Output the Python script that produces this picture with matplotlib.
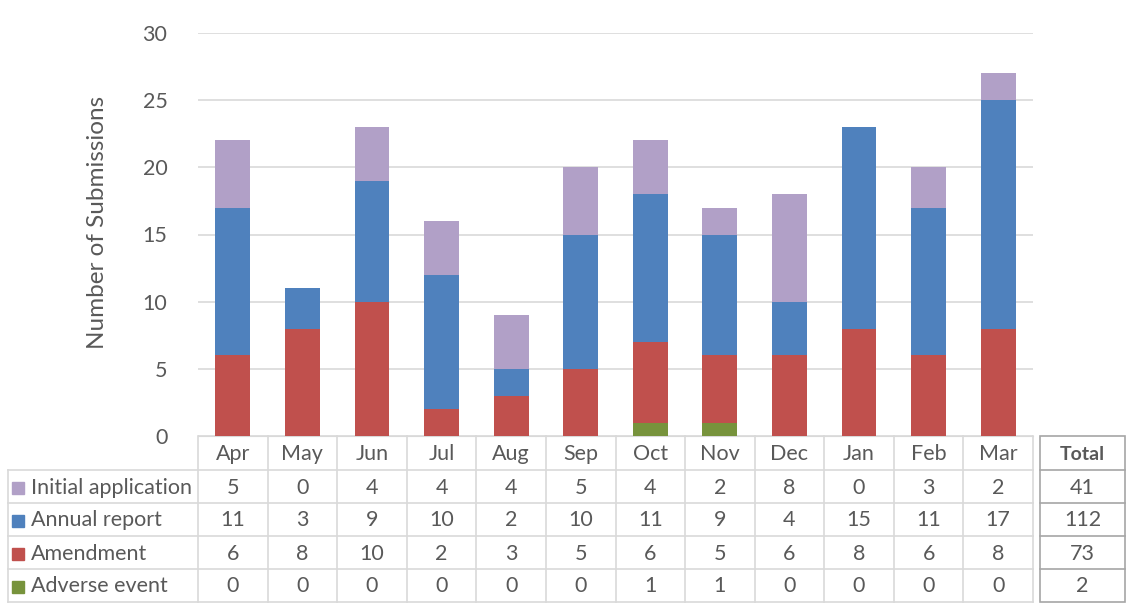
import numpy as np
import matplotlib
matplotlib.use('Agg')
import matplotlib.pyplot as plt

plt.rcParams['font.family'] = ['Lato', 'DejaVu Sans']

## data
months = ['Apr', 'May', 'Jun', 'Jul', 'Aug', 'Sep', 'Oct', 'Nov', 'Dec', 'Jan', 'Feb', 'Mar']
initial = [5, 0, 4, 4, 4, 5, 4, 2, 8, 0, 3, 2]
annual = [11, 3, 9, 10, 2, 10, 11, 9, 4, 15, 11, 17]
amendment = [6, 8, 10, 2, 3, 5, 6, 5, 6, 8, 6, 8]
adverse = [0, 0, 0, 0, 0, 0, 1, 1, 0, 0, 0, 0]

names = ['Initial application', 'Annual report', 'Amendment', 'Adverse event']
colors = ['#B1A0C7', '#4F81BD', '#C0504D', '#77933C']
series = [initial, annual, amendment, adverse]

W, H = 1130, 605
txt = '#595959'
grid = '#D9D9D9'
fs = 15.5

fig = plt.figure(figsize=(W/100, H/100), dpi=100)

# plot area in pixels
px0, px1 = 198, 1033
py0, py1 = 33, 436
ax = fig.add_axes([px0/W, 1 - py1/H, (px1-px0)/W, (py1-py0)/H])

x = np.arange(len(months))
bottom = np.zeros(len(months))
# stack from the bottom: adverse, amendment, annual, initial
for vals, c in zip(series[::-1], colors[::-1]):
    ax.bar(x, vals, width=0.5, bottom=bottom, color=c, zorder=3)
    bottom += np.array(vals)

ax.set_xlim(-0.5, len(months) - 0.5)
ax.set_ylim(0, 30)
ax.set_yticks(range(0, 31, 5))
ax.set_xticks([])
ax.yaxis.grid(True, color=grid, linewidth=1.2, zorder=0)
ax.tick_params(axis='y', length=0, pad=22, labelsize=fs, labelcolor=txt)
for s in ['top', 'right', 'left']:
    ax.spines[s].set_visible(False)
ax.spines['bottom'].set_color(grid)
ax.set_ylabel('Number of Submissions', fontsize=17.5, color=txt)
ax.yaxis.set_label_coords(-0.108, 0.53)

## data table drawn in pixel coordinates
tab = fig.add_axes([0, 0, 1, 1])
tab.set_xlim(0, W)
tab.set_ylim(H, 0)
tab.axis('off')

colw = (px1 - px0) / len(months)
lab_x0 = 8
row_top = [436, 470, 503, 536, 569]
row_h = 33
bot = row_top[-1] + row_h

# horizontal lines
for r in row_top[1:]:
    tab.plot([lab_x0, px1], [r, r], color=grid, lw=1.2)
tab.plot([lab_x0, px1], [bot, bot], color=grid, lw=1.2)
# vertical lines
for i in range(len(months) + 1):
    xx = px0 + i * colw
    tab.plot([xx, xx], [row_top[0], bot], color=grid, lw=1.2)
tab.plot([lab_x0, lab_x0], [row_top[1], bot], color=grid, lw=1.2)

for i, m in enumerate(months):
    tab.text(px0 + (i + 0.5) * colw, (row_top[0] + row_top[1]) / 2 + 1, m,
             ha='center', va='center', fontsize=fs, color=txt)

for j, (nm, c, vals) in enumerate(zip(names, colors, series)):
    yc = row_top[j + 1] + row_h / 2 + 1
    tab.add_patch(plt.Rectangle((12, yc - 6), 12, 12, color=c))
    tab.text(31, yc, nm, ha='left', va='center', fontsize=fs, color=txt)
    for i, v in enumerate(vals):
        tab.text(px0 + (i + 0.5) * colw, yc, str(v), ha='center', va='center',
                 fontsize=fs, color=txt)

## totals table
tx0, tx1 = 1040, 1125
edge = '#A6A6A6'
tab.add_patch(plt.Rectangle((tx0, row_top[0]), tx1 - tx0, bot - row_top[0],
                            fill=False, edgecolor=edge, lw=1.2))
for r in row_top[1:]:
    tab.plot([tx0, tx1], [r, r], color=edge, lw=1.2)
tab.text((tx0 + tx1) / 2, (row_top[0] + row_top[1]) / 2 + 1, 'Total',
         ha='center', va='center', fontsize=14, color=txt, fontweight='bold')
for j, vals in enumerate(series):
    yc = row_top[j + 1] + row_h / 2 + 1
    tab.text((tx0 + tx1) / 2, yc, str(sum(vals)), ha='center', va='center',
             fontsize=fs, color=txt)

fig.savefig('out.png', dpi=100)
